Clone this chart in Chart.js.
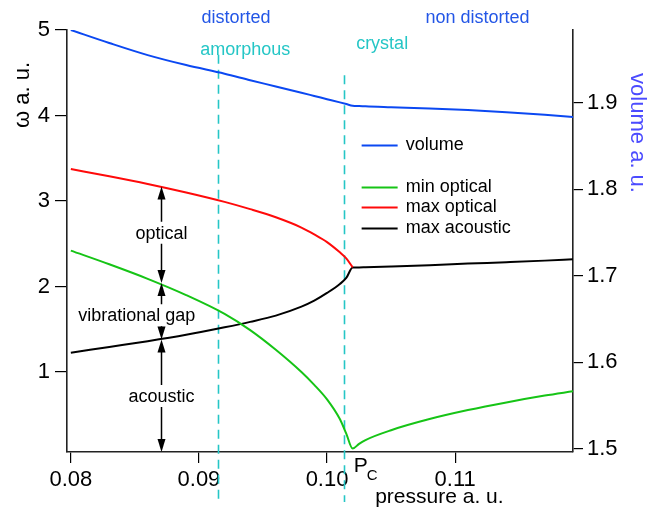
<!DOCTYPE html>
<html>
<head>
<meta charset="utf-8">
<script src="https://cdn.jsdelivr.net/npm/chart.js@4.4.1/dist/chart.umd.min.js"></script>
<style>
  html, body { margin: 0; padding: 0; background: #fff; }
  #grafico { display: block; }
</style>
</head>
<body>
<canvas id="grafico" width="656" height="511"></canvas>
<script>
// presion (a. u.) comun a todas las curvas
const presion = [0.08, 0.083, 0.086, 0.089, 0.092, 0.094, 0.096, 0.098, 0.099, 0.1, 0.101, 0.1015, 0.102, 0.1025, 0.103, 0.105, 0.108, 0.111, 0.114, 0.117, 0.1192];

// volumen, eje derecho
const volumen = [1.984, 1.969, 1.955, 1.9435, 1.9335, 1.926, 1.9188, 1.9115, 1.9078, 1.9041, 1.9004, 1.8985, 1.8965, 1.8962, 1.8958, 1.8948, 1.8934, 1.8915, 1.889, 1.886, 1.8835];

// frecuencias, eje izquierdo
const minOptico = [2.42, 2.26, 2.09, 1.90, 1.68, 1.49, 1.26, 1.0, 0.85, 0.68, 0.45, 0.28, 0.105, 0.16, 0.205, 0.32, 0.45, 0.555, 0.645, 0.725, 0.775];
const maxOptico = [3.374, 3.29, 3.20, 3.10, 2.99, 2.905, 2.81, 2.69, 2.61, 2.52, 2.40, 2.33, 2.225, null, null, null, null, null, null, null, null];
const maxAcustico = [1.226, 1.293, 1.36, 1.435, 1.523, 1.587, 1.66, 1.765, 1.835, 1.925, 2.03, 2.10, 2.222, 2.224, 2.226, 2.235, 2.25, 2.268, 2.285, 2.303, 2.318];

const ticksPresion = [0.08, 0.09, 0.1, 0.11];
const ticksOmega = [1, 2, 3, 4, 5];
const ticksVolumen = [1.5, 1.6, 1.7, 1.8, 1.9];

// limites de fase (lineas cortadas) y presion critica
const limitesFase = [0.0915, 0.1013];
const presionCritica = 0.102;

// flechas de bandas en p = 0.087: max optico, min optico, max acustico
const presionFlechas = 0.087;
const bordesBandas = [3.17, 2.04, 1.38];

const FUENTE = "'Liberation Sans', Arial, sans-serif";
const AZUL = "#0b48f2";
const CIAN = "#25c6c6";
const AZUL_TEXTO = "#2356e6";

const aPuntos = (valores) =>
  valores.map((v, i) => ({ x: presion[i], y: v }));

const fijarTicks = (valores) => (scale) => {
  scale.ticks = valores.map((v) => ({ value: v }));
};

const flecha = (ctx, x, y, dir) => {
  // dir = -1 apunta hacia arriba, 1 hacia abajo
  ctx.beginPath();
  ctx.moveTo(x, y);
  ctx.lineTo(x - 4, y - dir * 13);
  ctx.lineTo(x + 4, y - dir * 13);
  ctx.closePath();
  ctx.fill();
};

const flechaDoble = (ctx, x, yArriba, yAbajo, yTexto) => {
  ctx.beginPath();
  ctx.moveTo(x, yArriba + 10);
  ctx.lineTo(x, yTexto - 12);
  ctx.moveTo(x, yTexto + 10);
  ctx.lineTo(x, yAbajo - 10);
  ctx.stroke();
  flecha(ctx, x, yArriba, -1);
  flecha(ctx, x, yAbajo, 1);
};

const anotaciones = {
  id: "anotaciones",
  beforeDatasetsDraw(chart) {
    const { ctx, chartArea, scales } = chart;
    const x = scales.x;
    const y = scales.y;
    // lineas cortadas de las transiciones
    const inicios = [4.71, 4.47];
    ctx.save();
    ctx.strokeStyle = CIAN;
    ctx.lineWidth = 1.6;
    ctx.setLineDash([9, 6]);
    limitesFase.forEach((p, i) => {
      const px = Math.round(x.getPixelForValue(p)) + 0.5;
      ctx.beginPath();
      ctx.moveTo(px, y.getPixelForValue(inicios[i]));
      ctx.lineTo(px, chartArea.bottom + 50);
      ctx.stroke();
    });
    ctx.restore();
  },
  afterDraw(chart) {
    const { ctx, chartArea, scales } = chart;
    const x = scales.x;
    const y = scales.y;
    ctx.save();
    ctx.textBaseline = "middle";

    // textos de fase
    const textos = [
      { t: "distorted", p: 0.0929, v: 5.14, c: AZUL_TEXTO },
      { t: "non distorted", p: 0.11174, v: 5.14, c: AZUL_TEXTO },
      { t: "amorphous", p: 0.09362, v: 4.766, c: CIAN },
      { t: "crystal", p: 0.1043, v: 4.836, c: CIAN },
    ];
    ctx.font = `18px ${FUENTE}`;
    ctx.textAlign = "center";
    textos.forEach((n) => {
      ctx.fillStyle = n.c;
      ctx.fillText(n.t, x.getPixelForValue(n.p), y.getPixelForValue(n.v));
    });

    // flechas de bandas
    const fx = Math.round(x.getPixelForValue(presionFlechas)) + 0.5;
    const [yRojo, yVerde, yNegro] = bordesBandas.map((v) => y.getPixelForValue(v));
    const yBase = chartArea.bottom;
    ctx.strokeStyle = "#000";
    ctx.fillStyle = "#000";
    ctx.lineWidth = 1.5;
    const yOptico = (yRojo + yVerde) / 2 - 1;
    const yGap = (yVerde + yNegro) / 2 + 5;
    const yAcustico = y.getPixelForValue(0.708);
    flechaDoble(ctx, fx, yRojo, yVerde, yOptico);
    flechaDoble(ctx, fx, yVerde, yNegro, yGap);
    flechaDoble(ctx, fx, yNegro, yBase, yAcustico);
    ctx.fillText("optical", fx, yOptico);
    ctx.fillText("vibrational gap", x.getPixelForValue(0.08514), yGap);
    ctx.fillText("acoustic", fx, yAcustico);

    // leyenda
    const lx = x.getPixelForValue(0.1027);
    const ly = y.getPixelForValue(3.655);
    const filas = [0, 42, 62, 83];
    ctx.textAlign = "left";
    ctx.font = `18px ${FUENTE}`;
    chart.data.datasets.forEach((ds, i) => {
      const yy = Math.round(ly + filas[i]) + 0.5;
      ctx.strokeStyle = ds.borderColor;
      ctx.lineWidth = 2;
      ctx.beginPath();
      ctx.moveTo(lx, yy);
      ctx.lineTo(lx + 36, yy);
      ctx.stroke();
      ctx.fillStyle = "#000";
      ctx.fillText(ds.label, lx + 44, yy);
    });

    // presion critica
    const pcx = x.getPixelForValue(presionCritica) + 1;
    ctx.textBaseline = "alphabetic";
    ctx.font = `21px ${FUENTE}`;
    ctx.fillText("P", pcx, chartArea.bottom + 20);
    ctx.font = `15px ${FUENTE}`;
    ctx.fillText("C", pcx + 13, chartArea.bottom + 28);

    // titulos de ejes
    ctx.textBaseline = "middle";
    ctx.textAlign = "center";
    ctx.font = `21px ${FUENTE}`;
    ctx.fillStyle = "#000";
    ctx.fillText("pressure a. u.", x.getPixelForValue(0.10877), chartArea.bottom + 45);

    ctx.save();
    ctx.translate(chartArea.left - 44, y.getPixelForValue(4.24));
    ctx.rotate(-Math.PI / 2);
    ctx.font = `22px ${FUENTE}`;
    ctx.fillText("ω a. u.", 0, 0);
    ctx.restore();

    ctx.save();
    ctx.translate(chartArea.right + 64, y.getPixelForValue(3.795));
    ctx.rotate(Math.PI / 2);
    ctx.font = `22px ${FUENTE}`;
    ctx.fillStyle = "#4b4bff";
    ctx.fillText("volume a. u.", 0, 0);
    ctx.restore();

    ctx.restore();
  },
};

const ejeNegro = (tickLength) => ({
  grid: {
    drawOnChartArea: false,
    drawTicks: true,
    tickLength: tickLength,
    color: "#000",
    lineWidth: 1.2,
  },
  border: { display: true, color: "#222", width: 1.6 },
});

const config = {
  type: "line",
  data: {
    datasets: [
      {
        label: "volume",
        data: aPuntos(volumen),
        yAxisID: "y2",
        borderColor: AZUL,
        borderWidth: 2,
      },
      {
        label: "min optical",
        data: aPuntos(minOptico),
        yAxisID: "y",
        borderColor: "#16c416",
        borderWidth: 2,
      },
      {
        label: "max optical",
        data: aPuntos(maxOptico),
        yAxisID: "y",
        borderColor: "#ff0a0a",
        borderWidth: 2,
      },
      {
        label: "max acoustic",
        data: aPuntos(maxAcustico),
        yAxisID: "y",
        borderColor: "#000",
        borderWidth: 2,
      },
    ],
  },
  options: {
    responsive: false,
    animation: false,
    devicePixelRatio: 1,
    layout: { padding: { top: 30, left: 0, right: 0, bottom: 0 } },
    elements: {
      point: { radius: 0 },
      line: { cubicInterpolationMode: "monotone" },
    },
    plugins: {
      legend: { display: false },
      tooltip: { enabled: false },
    },
    scales: {
      x: {
        type: "linear",
        position: "bottom",
        min: 0.0797,
        max: 0.1192,
        afterBuildTicks: fijarTicks(ticksPresion),
        afterFit: (scale) => {
          scale.height = 59;
        },
        ticks: {
          color: "#000",
          font: { size: 22, family: FUENTE },
          padding: 4,
          maxRotation: 0,
          autoSkip: false,
          callback: (v) => v.toFixed(2),
        },
        ...ejeNegro(11),
      },
      y: {
        position: "left",
        min: 0.065,
        max: 5,
        afterBuildTicks: fijarTicks(ticksOmega),
        afterFit: (scale) => {
          scale.width = 67;
        },
        ticks: {
          color: "#000",
          font: { size: 22, family: FUENTE },
          padding: 5,
          callback: (v) => String(v),
        },
        ...ejeNegro(12),
      },
      y2: {
        position: "right",
        min: 1.4965,
        max: 1.984,
        afterBuildTicks: fijarTicks(ticksVolumen),
        afterFit: (scale) => {
          scale.width = 83;
        },
        ticks: {
          color: "#000",
          font: { size: 22, family: FUENTE },
          padding: 4,
          callback: (v) => v.toFixed(1),
        },
        ...ejeNegro(10),
      },
    },
  },
  plugins: [anotaciones],
};

const grafico = new Chart(document.getElementById("grafico"), config);
</script>
</body>
</html>
